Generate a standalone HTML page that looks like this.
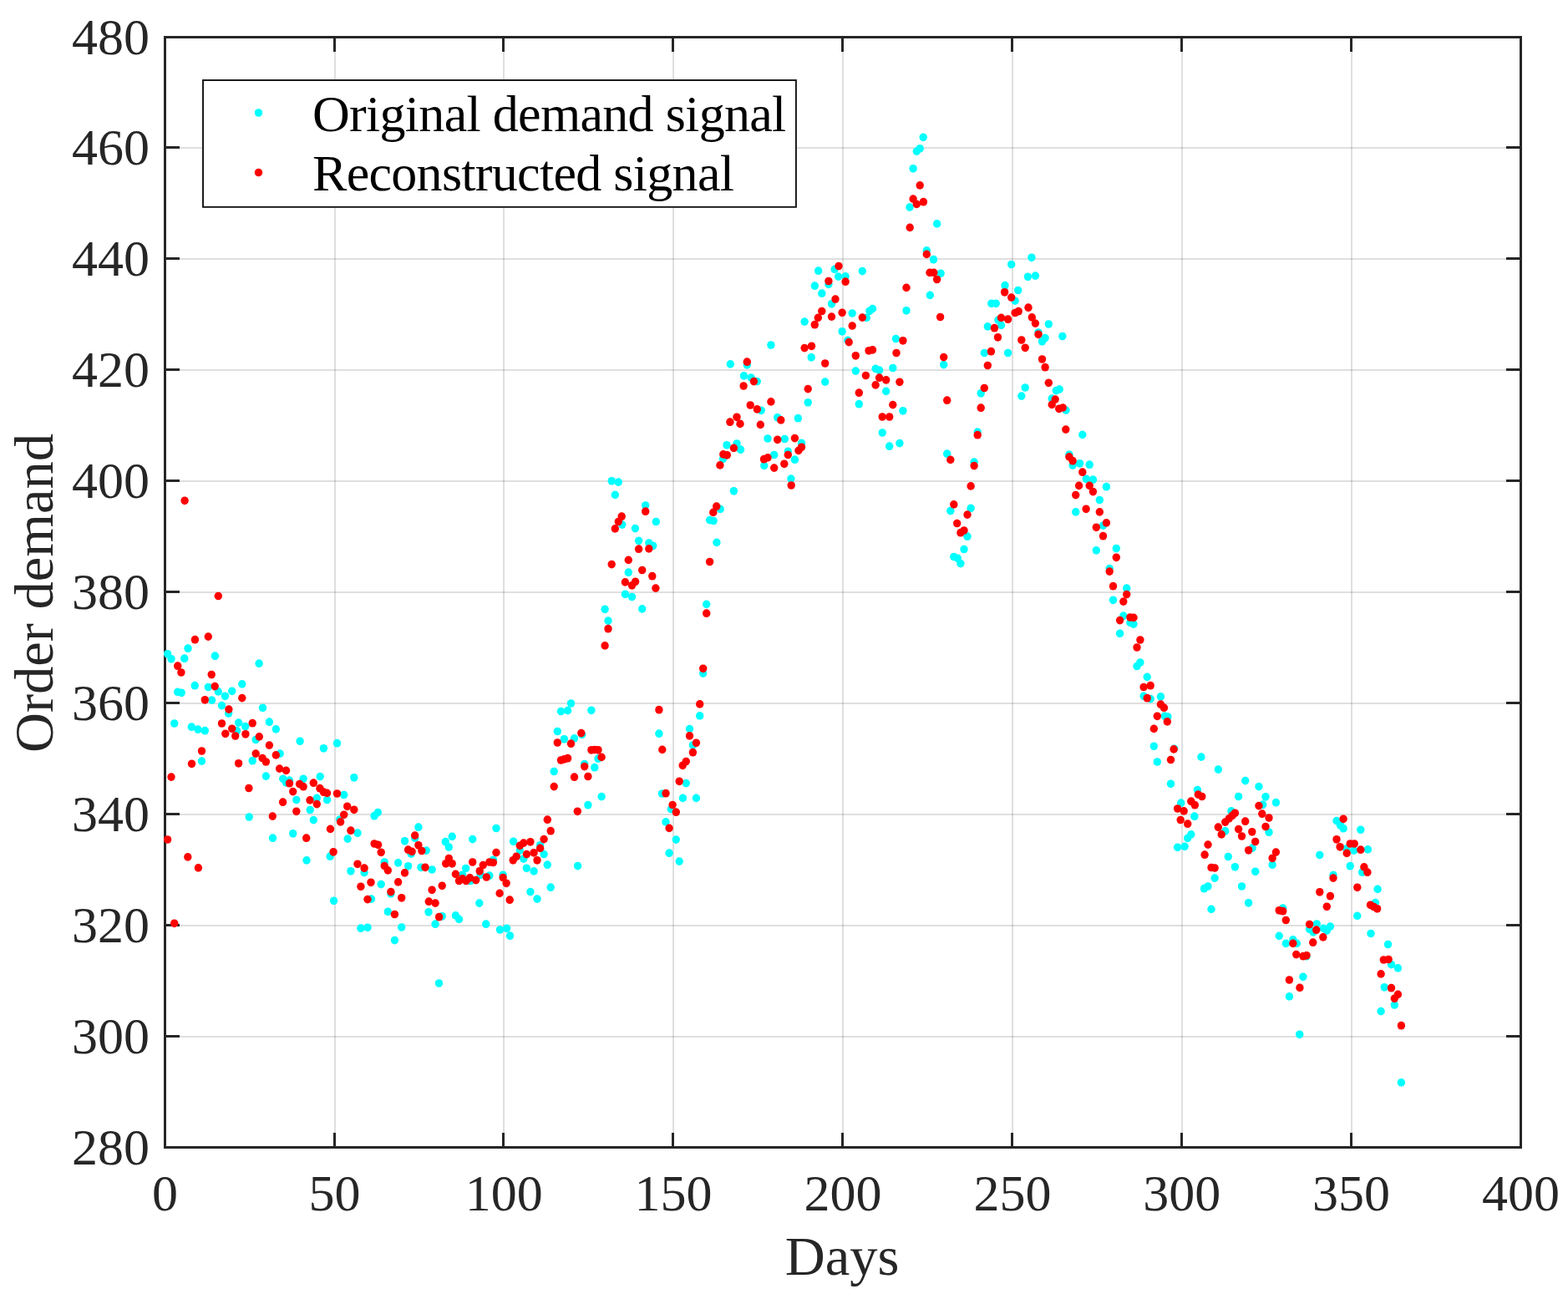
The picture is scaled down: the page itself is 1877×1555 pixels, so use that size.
<!DOCTYPE html><html><head><meta charset="utf-8"><title>Order demand</title><style>html,body{margin:0;padding:0;background:#fff;overflow:hidden}svg{display:block}</style></head><body><svg width="1877" height="1555" viewBox="0 0 1877 1555"><rect x="0" y="0" width="1877" height="1555" fill="#fff"/><g stroke="#262626" stroke-opacity="0.15" stroke-width="2"><line x1="401" y1="44.50" x2="401" y2="1373.20"/><line x1="603" y1="44.50" x2="603" y2="1373.20"/><line x1="806" y1="44.50" x2="806" y2="1373.20"/><line x1="1009" y1="44.50" x2="1009" y2="1373.20"/><line x1="1212" y1="44.50" x2="1212" y2="1373.20"/><line x1="1415" y1="44.50" x2="1415" y2="1373.20"/><line x1="1618" y1="44.50" x2="1618" y2="1373.20"/><line x1="197.50" y1="1241" x2="1820.50" y2="1241"/><line x1="197.50" y1="1108" x2="1820.50" y2="1108"/><line x1="197.50" y1="975" x2="1820.50" y2="975"/><line x1="197.50" y1="842" x2="1820.50" y2="842"/><line x1="197.50" y1="709" x2="1820.50" y2="709"/><line x1="197.50" y1="576" x2="1820.50" y2="576"/><line x1="197.50" y1="443" x2="1820.50" y2="443"/><line x1="197.50" y1="310" x2="1820.50" y2="310"/><line x1="197.50" y1="177" x2="1820.50" y2="177"/></g><g stroke="#262626" stroke-width="3" stroke-linecap="square"><line x1="400.50" y1="1373.5" x2="400.50" y2="1357.50"/><line x1="400.50" y1="44.50" x2="400.50" y2="60.50"/><line x1="602.50" y1="1373.5" x2="602.50" y2="1357.50"/><line x1="602.50" y1="44.50" x2="602.50" y2="60.50"/><line x1="805.50" y1="1373.5" x2="805.50" y2="1357.50"/><line x1="805.50" y1="44.50" x2="805.50" y2="60.50"/><line x1="1008.50" y1="1373.5" x2="1008.50" y2="1357.50"/><line x1="1008.50" y1="44.50" x2="1008.50" y2="60.50"/><line x1="1211.50" y1="1373.5" x2="1211.50" y2="1357.50"/><line x1="1211.50" y1="44.50" x2="1211.50" y2="60.50"/><line x1="1414.50" y1="1373.5" x2="1414.50" y2="1357.50"/><line x1="1414.50" y1="44.50" x2="1414.50" y2="60.50"/><line x1="1617.50" y1="1373.5" x2="1617.50" y2="1357.50"/><line x1="1617.50" y1="44.50" x2="1617.50" y2="60.50"/><line x1="197.50" y1="1240.50" x2="213.50" y2="1240.50"/><line x1="1820.50" y1="1240.50" x2="1804.50" y2="1240.50"/><line x1="197.50" y1="1107.50" x2="213.50" y2="1107.50"/><line x1="1820.50" y1="1107.50" x2="1804.50" y2="1107.50"/><line x1="197.50" y1="974.50" x2="213.50" y2="974.50"/><line x1="1820.50" y1="974.50" x2="1804.50" y2="974.50"/><line x1="197.50" y1="841.50" x2="213.50" y2="841.50"/><line x1="1820.50" y1="841.50" x2="1804.50" y2="841.50"/><line x1="197.50" y1="708.50" x2="213.50" y2="708.50"/><line x1="1820.50" y1="708.50" x2="1804.50" y2="708.50"/><line x1="197.50" y1="575.50" x2="213.50" y2="575.50"/><line x1="1820.50" y1="575.50" x2="1804.50" y2="575.50"/><line x1="197.50" y1="442.50" x2="213.50" y2="442.50"/><line x1="1820.50" y1="442.50" x2="1804.50" y2="442.50"/><line x1="197.50" y1="309.50" x2="213.50" y2="309.50"/><line x1="1820.50" y1="309.50" x2="1804.50" y2="309.50"/><line x1="197.50" y1="176.50" x2="213.50" y2="176.50"/><line x1="1820.50" y1="176.50" x2="1804.50" y2="176.50"/><rect x="197.5" y="44.5" width="1623" height="1329" fill="none"/></g><g fill="#00ffff"><ellipse cx="200.6" cy="782.8" rx="4.7" ry="4.85"/><ellipse cx="205.0" cy="788.8" rx="4.7" ry="4.85"/><ellipse cx="225.0" cy="776.2" rx="4.7" ry="4.85"/><ellipse cx="220.8" cy="788.2" rx="4.7" ry="4.85"/><ellipse cx="257.4" cy="785.2" rx="4.7" ry="4.85"/><ellipse cx="310.1" cy="794.2" rx="4.7" ry="4.85"/><ellipse cx="212.7" cy="828.4" rx="4.7" ry="4.85"/><ellipse cx="217.2" cy="829.3" rx="4.7" ry="4.85"/><ellipse cx="233.2" cy="820.7" rx="4.7" ry="4.85"/><ellipse cx="249.3" cy="822.5" rx="4.7" ry="4.85"/><ellipse cx="261.3" cy="827.9" rx="4.7" ry="4.85"/><ellipse cx="269.4" cy="833.3" rx="4.7" ry="4.85"/><ellipse cx="277.7" cy="827.3" rx="4.7" ry="4.85"/><ellipse cx="289.8" cy="818.9" rx="4.7" ry="4.85"/><ellipse cx="253.6" cy="838.1" rx="4.7" ry="4.85"/><ellipse cx="265.5" cy="844.6" rx="4.7" ry="4.85"/><ellipse cx="273.6" cy="854.0" rx="4.7" ry="4.85"/><ellipse cx="314.5" cy="847.3" rx="4.7" ry="4.85"/><ellipse cx="208.7" cy="866.0" rx="4.7" ry="4.85"/><ellipse cx="229.3" cy="870.2" rx="4.7" ry="4.85"/><ellipse cx="237.0" cy="873.2" rx="4.7" ry="4.85"/><ellipse cx="245.3" cy="874.7" rx="4.7" ry="4.85"/><ellipse cx="285.6" cy="865.1" rx="4.7" ry="4.85"/><ellipse cx="293.7" cy="869.6" rx="4.7" ry="4.85"/><ellipse cx="283.5" cy="874.7" rx="4.7" ry="4.85"/><ellipse cx="322.4" cy="864.2" rx="4.7" ry="4.85"/><ellipse cx="330.3" cy="872.9" rx="4.7" ry="4.85"/><ellipse cx="306.2" cy="885.5" rx="4.7" ry="4.85"/><ellipse cx="359.1" cy="887.3" rx="4.7" ry="4.85"/><ellipse cx="387.4" cy="895.8" rx="4.7" ry="4.85"/><ellipse cx="335.2" cy="902.1" rx="4.7" ry="4.85"/><ellipse cx="241.5" cy="911.1" rx="4.7" ry="4.85"/><ellipse cx="302.2" cy="910.7" rx="4.7" ry="4.85"/><ellipse cx="318.4" cy="929.1" rx="4.7" ry="4.85"/><ellipse cx="338.8" cy="932.3" rx="4.7" ry="4.85"/><ellipse cx="342.4" cy="936.8" rx="4.7" ry="4.85"/><ellipse cx="346.5" cy="934.1" rx="4.7" ry="4.85"/><ellipse cx="363.1" cy="932.3" rx="4.7" ry="4.85"/><ellipse cx="383.2" cy="929.6" rx="4.7" ry="4.85"/><ellipse cx="354.8" cy="957.5" rx="4.7" ry="4.85"/><ellipse cx="379.3" cy="955.4" rx="4.7" ry="4.85"/><ellipse cx="391.5" cy="957.5" rx="4.7" ry="4.85"/><ellipse cx="371.2" cy="969.5" rx="4.7" ry="4.85"/><ellipse cx="298.2" cy="978.0" rx="4.7" ry="4.85"/><ellipse cx="375.3" cy="981.6" rx="4.7" ry="4.85"/><ellipse cx="326.5" cy="1003.2" rx="4.7" ry="4.85"/><ellipse cx="350.7" cy="997.8" rx="4.7" ry="4.85"/><ellipse cx="395.1" cy="1025.2" rx="4.7" ry="4.85"/><ellipse cx="367.0" cy="1029.9" rx="4.7" ry="4.85"/><ellipse cx="399.6" cy="1078.3" rx="4.7" ry="4.85"/><ellipse cx="403.5" cy="889.7" rx="4.7" ry="4.85"/><ellipse cx="423.8" cy="930.8" rx="4.7" ry="4.85"/><ellipse cx="411.7" cy="951.5" rx="4.7" ry="4.85"/><ellipse cx="448.1" cy="976.7" rx="4.7" ry="4.85"/><ellipse cx="452.3" cy="972.6" rx="4.7" ry="4.85"/><ellipse cx="406.7" cy="981.0" rx="4.7" ry="4.85"/><ellipse cx="428.0" cy="997.2" rx="4.7" ry="4.85"/><ellipse cx="416.1" cy="1004.1" rx="4.7" ry="4.85"/><ellipse cx="500.9" cy="990.2" rx="4.7" ry="4.85"/><ellipse cx="484.5" cy="1006.8" rx="4.7" ry="4.85"/><ellipse cx="496.7" cy="1003.2" rx="4.7" ry="4.85"/><ellipse cx="510.3" cy="1018.1" rx="4.7" ry="4.85"/><ellipse cx="492.2" cy="1022.1" rx="4.7" ry="4.85"/><ellipse cx="533.3" cy="1007.7" rx="4.7" ry="4.85"/><ellipse cx="541.2" cy="1001.4" rx="4.7" ry="4.85"/><ellipse cx="537.3" cy="1014.0" rx="4.7" ry="4.85"/><ellipse cx="565.7" cy="1004.6" rx="4.7" ry="4.85"/><ellipse cx="594.0" cy="991.5" rx="4.7" ry="4.85"/><ellipse cx="460.2" cy="1032.0" rx="4.7" ry="4.85"/><ellipse cx="476.6" cy="1032.9" rx="4.7" ry="4.85"/><ellipse cx="488.6" cy="1036.8" rx="4.7" ry="4.85"/><ellipse cx="504.0" cy="1038.3" rx="4.7" ry="4.85"/><ellipse cx="517.1" cy="1041.0" rx="4.7" ry="4.85"/><ellipse cx="419.9" cy="1042.8" rx="4.7" ry="4.85"/><ellipse cx="436.1" cy="1044.6" rx="4.7" ry="4.85"/><ellipse cx="456.2" cy="1058.6" rx="4.7" ry="4.85"/><ellipse cx="557.6" cy="1039.5" rx="4.7" ry="4.85"/><ellipse cx="553.5" cy="1047.3" rx="4.7" ry="4.85"/><ellipse cx="563.4" cy="1054.5" rx="4.7" ry="4.85"/><ellipse cx="575.1" cy="1047.3" rx="4.7" ry="4.85"/><ellipse cx="585.9" cy="1048.2" rx="4.7" ry="4.85"/><ellipse cx="590.4" cy="1029.3" rx="4.7" ry="4.85"/><ellipse cx="602.1" cy="1047.3" rx="4.7" ry="4.85"/><ellipse cx="444.5" cy="1076.1" rx="4.7" ry="4.85"/><ellipse cx="467.9" cy="1069.8" rx="4.7" ry="4.85"/><ellipse cx="464.3" cy="1091.4" rx="4.7" ry="4.85"/><ellipse cx="513.0" cy="1091.8" rx="4.7" ry="4.85"/><ellipse cx="529.2" cy="1096.8" rx="4.7" ry="4.85"/><ellipse cx="545.4" cy="1095.9" rx="4.7" ry="4.85"/><ellipse cx="549.5" cy="1100.4" rx="4.7" ry="4.85"/><ellipse cx="573.8" cy="1081.1" rx="4.7" ry="4.85"/><ellipse cx="521.1" cy="1106.2" rx="4.7" ry="4.85"/><ellipse cx="581.7" cy="1106.2" rx="4.7" ry="4.85"/><ellipse cx="431.9" cy="1111.2" rx="4.7" ry="4.85"/><ellipse cx="440.0" cy="1110.3" rx="4.7" ry="4.85"/><ellipse cx="480.7" cy="1110.0" rx="4.7" ry="4.85"/><ellipse cx="472.4" cy="1125.6" rx="4.7" ry="4.85"/><ellipse cx="598.5" cy="1113.0" rx="4.7" ry="4.85"/><ellipse cx="525.5" cy="1177.0" rx="4.7" ry="4.85"/><ellipse cx="732.2" cy="575.8" rx="4.7" ry="4.85"/><ellipse cx="740.3" cy="577.1" rx="4.7" ry="4.85"/><ellipse cx="736.3" cy="592.4" rx="4.7" ry="4.85"/><ellipse cx="772.7" cy="605.0" rx="4.7" ry="4.85"/><ellipse cx="785.3" cy="624.5" rx="4.7" ry="4.85"/><ellipse cx="744.8" cy="628.1" rx="4.7" ry="4.85"/><ellipse cx="760.4" cy="632.6" rx="4.7" ry="4.85"/><ellipse cx="764.6" cy="647.3" rx="4.7" ry="4.85"/><ellipse cx="776.8" cy="650.0" rx="4.7" ry="4.85"/><ellipse cx="781.7" cy="653.3" rx="4.7" ry="4.85"/><ellipse cx="752.3" cy="685.2" rx="4.7" ry="4.85"/><ellipse cx="748.4" cy="711.3" rx="4.7" ry="4.85"/><ellipse cx="756.5" cy="714.5" rx="4.7" ry="4.85"/><ellipse cx="768.7" cy="728.9" rx="4.7" ry="4.85"/><ellipse cx="724.1" cy="729.3" rx="4.7" ry="4.85"/><ellipse cx="728.0" cy="743.1" rx="4.7" ry="4.85"/><ellipse cx="683.5" cy="842.0" rx="4.7" ry="4.85"/><ellipse cx="671.5" cy="851.5" rx="4.7" ry="4.85"/><ellipse cx="679.6" cy="850.6" rx="4.7" ry="4.85"/><ellipse cx="707.9" cy="850.3" rx="4.7" ry="4.85"/><ellipse cx="667.3" cy="875.5" rx="4.7" ry="4.85"/><ellipse cx="675.4" cy="884.8" rx="4.7" ry="4.85"/><ellipse cx="687.5" cy="883.9" rx="4.7" ry="4.85"/><ellipse cx="696.7" cy="879.4" rx="4.7" ry="4.85"/><ellipse cx="716.0" cy="908.2" rx="4.7" ry="4.85"/><ellipse cx="699.7" cy="914.5" rx="4.7" ry="4.85"/><ellipse cx="711.8" cy="918.7" rx="4.7" ry="4.85"/><ellipse cx="663.2" cy="923.5" rx="4.7" ry="4.85"/><ellipse cx="720.1" cy="953.6" rx="4.7" ry="4.85"/><ellipse cx="703.9" cy="963.7" rx="4.7" ry="4.85"/><ellipse cx="788.9" cy="878.2" rx="4.7" ry="4.85"/><ellipse cx="792.5" cy="950.0" rx="4.7" ry="4.85"/><ellipse cx="803.3" cy="968.6" rx="4.7" ry="4.85"/><ellipse cx="797.0" cy="983.9" rx="4.7" ry="4.85"/><ellipse cx="801.1" cy="1021.2" rx="4.7" ry="4.85"/><ellipse cx="614.6" cy="1007.3" rx="4.7" ry="4.85"/><ellipse cx="622.3" cy="1018.1" rx="4.7" ry="4.85"/><ellipse cx="626.8" cy="1028.0" rx="4.7" ry="4.85"/><ellipse cx="646.6" cy="1011.8" rx="4.7" ry="4.85"/><ellipse cx="651.1" cy="1022.6" rx="4.7" ry="4.85"/><ellipse cx="655.3" cy="1035.2" rx="4.7" ry="4.85"/><ellipse cx="630.4" cy="1039.3" rx="4.7" ry="4.85"/><ellipse cx="639.1" cy="1042.9" rx="4.7" ry="4.85"/><ellipse cx="691.6" cy="1036.6" rx="4.7" ry="4.85"/><ellipse cx="659.2" cy="1062.2" rx="4.7" ry="4.85"/><ellipse cx="634.9" cy="1067.6" rx="4.7" ry="4.85"/><ellipse cx="643.0" cy="1076.1" rx="4.7" ry="4.85"/><ellipse cx="606.6" cy="1111.3" rx="4.7" ry="4.85"/><ellipse cx="610.5" cy="1120.2" rx="4.7" ry="4.85"/><ellipse cx="979.6" cy="324.2" rx="4.7" ry="4.85"/><ellipse cx="999.1" cy="322.4" rx="4.7" ry="4.85"/><ellipse cx="1003.6" cy="331.1" rx="4.7" ry="4.85"/><ellipse cx="975.3" cy="342.2" rx="4.7" ry="4.85"/><ellipse cx="991.9" cy="340.4" rx="4.7" ry="4.85"/><ellipse cx="983.8" cy="351.2" rx="4.7" ry="4.85"/><ellipse cx="995.5" cy="363.8" rx="4.7" ry="4.85"/><ellipse cx="963.1" cy="385.1" rx="4.7" ry="4.85"/><ellipse cx="1008.1" cy="396.8" rx="4.7" ry="4.85"/><ellipse cx="922.9" cy="413.0" rx="4.7" ry="4.85"/><ellipse cx="971.2" cy="427.8" rx="4.7" ry="4.85"/><ellipse cx="874.3" cy="435.9" rx="4.7" ry="4.85"/><ellipse cx="894.3" cy="436.8" rx="4.7" ry="4.85"/><ellipse cx="890.5" cy="449.9" rx="4.7" ry="4.85"/><ellipse cx="899.1" cy="452.1" rx="4.7" ry="4.85"/><ellipse cx="906.3" cy="456.6" rx="4.7" ry="4.85"/><ellipse cx="987.7" cy="457.1" rx="4.7" ry="4.85"/><ellipse cx="967.2" cy="481.8" rx="4.7" ry="4.85"/><ellipse cx="911.2" cy="491.3" rx="4.7" ry="4.85"/><ellipse cx="930.7" cy="499.8" rx="4.7" ry="4.85"/><ellipse cx="955.3" cy="500.7" rx="4.7" ry="4.85"/><ellipse cx="919.0" cy="525.0" rx="4.7" ry="4.85"/><ellipse cx="939.3" cy="525.5" rx="4.7" ry="4.85"/><ellipse cx="959.5" cy="530.4" rx="4.7" ry="4.85"/><ellipse cx="870.0" cy="532.8" rx="4.7" ry="4.85"/><ellipse cx="882.0" cy="531.0" rx="4.7" ry="4.85"/><ellipse cx="886.5" cy="538.2" rx="4.7" ry="4.85"/><ellipse cx="865.5" cy="549.3" rx="4.7" ry="4.85"/><ellipse cx="926.7" cy="544.5" rx="4.7" ry="4.85"/><ellipse cx="943.3" cy="540.3" rx="4.7" ry="4.85"/><ellipse cx="951.4" cy="550.2" rx="4.7" ry="4.85"/><ellipse cx="914.8" cy="557.4" rx="4.7" ry="4.85"/><ellipse cx="946.9" cy="573.1" rx="4.7" ry="4.85"/><ellipse cx="878.4" cy="587.8" rx="4.7" ry="4.85"/><ellipse cx="862.2" cy="609.4" rx="4.7" ry="4.85"/><ellipse cx="849.6" cy="622.6" rx="4.7" ry="4.85"/><ellipse cx="854.1" cy="623.5" rx="4.7" ry="4.85"/><ellipse cx="857.9" cy="649.4" rx="4.7" ry="4.85"/><ellipse cx="845.7" cy="723.4" rx="4.7" ry="4.85"/><ellipse cx="841.7" cy="806.1" rx="4.7" ry="4.85"/><ellipse cx="837.7" cy="856.9" rx="4.7" ry="4.85"/><ellipse cx="825.5" cy="872.6" rx="4.7" ry="4.85"/><ellipse cx="829.4" cy="892.0" rx="4.7" ry="4.85"/><ellipse cx="821.3" cy="937.6" rx="4.7" ry="4.85"/><ellipse cx="817.4" cy="955.4" rx="4.7" ry="4.85"/><ellipse cx="833.4" cy="955.4" rx="4.7" ry="4.85"/><ellipse cx="809.3" cy="1005.1" rx="4.7" ry="4.85"/><ellipse cx="813.2" cy="1031.1" rx="4.7" ry="4.85"/><ellipse cx="1105.2" cy="164.3" rx="4.7" ry="4.85"/><ellipse cx="1101.2" cy="177.8" rx="4.7" ry="4.85"/><ellipse cx="1097.3" cy="181.1" rx="4.7" ry="4.85"/><ellipse cx="1093.1" cy="201.8" rx="4.7" ry="4.85"/><ellipse cx="1089.0" cy="248.0" rx="4.7" ry="4.85"/><ellipse cx="1121.6" cy="267.9" rx="4.7" ry="4.85"/><ellipse cx="1109.3" cy="299.9" rx="4.7" ry="4.85"/><ellipse cx="1117.5" cy="310.7" rx="4.7" ry="4.85"/><ellipse cx="1126.1" cy="327.3" rx="4.7" ry="4.85"/><ellipse cx="1032.3" cy="324.6" rx="4.7" ry="4.85"/><ellipse cx="1012.1" cy="330.9" rx="4.7" ry="4.85"/><ellipse cx="1113.3" cy="353.4" rx="4.7" ry="4.85"/><ellipse cx="1085.0" cy="371.8" rx="4.7" ry="4.85"/><ellipse cx="1020.2" cy="375.0" rx="4.7" ry="4.85"/><ellipse cx="1044.5" cy="369.6" rx="4.7" ry="4.85"/><ellipse cx="1040.9" cy="372.3" rx="4.7" ry="4.85"/><ellipse cx="1037.3" cy="380.4" rx="4.7" ry="4.85"/><ellipse cx="1210.7" cy="316.5" rx="4.7" ry="4.85"/><ellipse cx="1203.0" cy="341.7" rx="4.7" ry="4.85"/><ellipse cx="1186.8" cy="363.3" rx="4.7" ry="4.85"/><ellipse cx="1192.2" cy="363.3" rx="4.7" ry="4.85"/><ellipse cx="1194.9" cy="383.1" rx="4.7" ry="4.85"/><ellipse cx="1198.5" cy="389.4" rx="4.7" ry="4.85"/><ellipse cx="1182.3" cy="390.9" rx="4.7" ry="4.85"/><ellipse cx="1072.4" cy="405.6" rx="4.7" ry="4.85"/><ellipse cx="1014.8" cy="407.4" rx="4.7" ry="4.85"/><ellipse cx="1024.3" cy="444.1" rx="4.7" ry="4.85"/><ellipse cx="1048.1" cy="441.4" rx="4.7" ry="4.85"/><ellipse cx="1052.6" cy="443.2" rx="4.7" ry="4.85"/><ellipse cx="1068.8" cy="440.5" rx="4.7" ry="4.85"/><ellipse cx="1060.7" cy="468.4" rx="4.7" ry="4.85"/><ellipse cx="1028.3" cy="483.7" rx="4.7" ry="4.85"/><ellipse cx="1080.9" cy="491.8" rx="4.7" ry="4.85"/><ellipse cx="1056.2" cy="518.0" rx="4.7" ry="4.85"/><ellipse cx="1064.7" cy="534.2" rx="4.7" ry="4.85"/><ellipse cx="1076.9" cy="530.6" rx="4.7" ry="4.85"/><ellipse cx="1129.7" cy="436.6" rx="4.7" ry="4.85"/><ellipse cx="1178.3" cy="422.5" rx="4.7" ry="4.85"/><ellipse cx="1206.6" cy="422.5" rx="4.7" ry="4.85"/><ellipse cx="1174.2" cy="470.8" rx="4.7" ry="4.85"/><ellipse cx="1170.2" cy="517.1" rx="4.7" ry="4.85"/><ellipse cx="1133.7" cy="543.2" rx="4.7" ry="4.85"/><ellipse cx="1166.1" cy="553.1" rx="4.7" ry="4.85"/><ellipse cx="1137.8" cy="611.6" rx="4.7" ry="4.85"/><ellipse cx="1162.1" cy="608.4" rx="4.7" ry="4.85"/><ellipse cx="1158.0" cy="642.2" rx="4.7" ry="4.85"/><ellipse cx="1154.0" cy="657.5" rx="4.7" ry="4.85"/><ellipse cx="1141.8" cy="666.5" rx="4.7" ry="4.85"/><ellipse cx="1146.3" cy="668.3" rx="4.7" ry="4.85"/><ellipse cx="1149.9" cy="674.6" rx="4.7" ry="4.85"/><ellipse cx="1234.9" cy="308.3" rx="4.7" ry="4.85"/><ellipse cx="1230.4" cy="331.3" rx="4.7" ry="4.85"/><ellipse cx="1239.4" cy="330.1" rx="4.7" ry="4.85"/><ellipse cx="1218.7" cy="347.5" rx="4.7" ry="4.85"/><ellipse cx="1215.1" cy="360.1" rx="4.7" ry="4.85"/><ellipse cx="1255.3" cy="388.0" rx="4.7" ry="4.85"/><ellipse cx="1271.8" cy="402.5" rx="4.7" ry="4.85"/><ellipse cx="1243.0" cy="398.0" rx="4.7" ry="4.85"/><ellipse cx="1247.5" cy="408.8" rx="4.7" ry="4.85"/><ellipse cx="1251.1" cy="404.6" rx="4.7" ry="4.85"/><ellipse cx="1227.2" cy="464.0" rx="4.7" ry="4.85"/><ellipse cx="1222.8" cy="474.1" rx="4.7" ry="4.85"/><ellipse cx="1264.3" cy="467.6" rx="4.7" ry="4.85"/><ellipse cx="1268.2" cy="466.0" rx="4.7" ry="4.85"/><ellipse cx="1259.2" cy="477.2" rx="4.7" ry="4.85"/><ellipse cx="1276.0" cy="491.1" rx="4.7" ry="4.85"/><ellipse cx="1295.8" cy="520.4" rx="4.7" ry="4.85"/><ellipse cx="1279.9" cy="544.2" rx="4.7" ry="4.85"/><ellipse cx="1284.1" cy="557.1" rx="4.7" ry="4.85"/><ellipse cx="1292.5" cy="554.8" rx="4.7" ry="4.85"/><ellipse cx="1304.2" cy="556.2" rx="4.7" ry="4.85"/><ellipse cx="1300.3" cy="573.3" rx="4.7" ry="4.85"/><ellipse cx="1308.4" cy="574.2" rx="4.7" ry="4.85"/><ellipse cx="1324.4" cy="582.7" rx="4.7" ry="4.85"/><ellipse cx="1316.3" cy="598.5" rx="4.7" ry="4.85"/><ellipse cx="1287.7" cy="612.9" rx="4.7" ry="4.85"/><ellipse cx="1320.5" cy="629.1" rx="4.7" ry="4.85"/><ellipse cx="1312.3" cy="658.9" rx="4.7" ry="4.85"/><ellipse cx="1336.3" cy="656.5" rx="4.7" ry="4.85"/><ellipse cx="1328.2" cy="680.5" rx="4.7" ry="4.85"/><ellipse cx="1348.7" cy="704.2" rx="4.7" ry="4.85"/><ellipse cx="1332.5" cy="718.3" rx="4.7" ry="4.85"/><ellipse cx="1344.8" cy="737.2" rx="4.7" ry="4.85"/><ellipse cx="1352.9" cy="745.3" rx="4.7" ry="4.85"/><ellipse cx="1357.0" cy="747.1" rx="4.7" ry="4.85"/><ellipse cx="1340.6" cy="758.3" rx="4.7" ry="4.85"/><ellipse cx="1364.9" cy="793.0" rx="4.7" ry="4.85"/><ellipse cx="1361.0" cy="797.5" rx="4.7" ry="4.85"/><ellipse cx="1373.2" cy="810.4" rx="4.7" ry="4.85"/><ellipse cx="1369.1" cy="833.3" rx="4.7" ry="4.85"/><ellipse cx="1377.2" cy="836.6" rx="4.7" ry="4.85"/><ellipse cx="1389.4" cy="833.9" rx="4.7" ry="4.85"/><ellipse cx="1394.3" cy="857.3" rx="4.7" ry="4.85"/><ellipse cx="1397.9" cy="858.0" rx="4.7" ry="4.85"/><ellipse cx="1381.3" cy="893.3" rx="4.7" ry="4.85"/><ellipse cx="1405.6" cy="896.3" rx="4.7" ry="4.85"/><ellipse cx="1385.3" cy="912.0" rx="4.7" ry="4.85"/><ellipse cx="1401.5" cy="938.3" rx="4.7" ry="4.85"/><ellipse cx="1413.7" cy="961.2" rx="4.7" ry="4.85"/><ellipse cx="1409.6" cy="1014.3" rx="4.7" ry="4.85"/><ellipse cx="1437.9" cy="906.1" rx="4.7" ry="4.85"/><ellipse cx="1458.3" cy="921.1" rx="4.7" ry="4.85"/><ellipse cx="1490.7" cy="934.6" rx="4.7" ry="4.85"/><ellipse cx="1506.9" cy="941.6" rx="4.7" ry="4.85"/><ellipse cx="1433.4" cy="945.7" rx="4.7" ry="4.85"/><ellipse cx="1482.6" cy="953.5" rx="4.7" ry="4.85"/><ellipse cx="1515.0" cy="953.8" rx="4.7" ry="4.85"/><ellipse cx="1527.4" cy="960.7" rx="4.7" ry="4.85"/><ellipse cx="1511.7" cy="963.2" rx="4.7" ry="4.85"/><ellipse cx="1429.8" cy="977.2" rx="4.7" ry="4.85"/><ellipse cx="1473.9" cy="970.9" rx="4.7" ry="4.85"/><ellipse cx="1466.7" cy="994.9" rx="4.7" ry="4.85"/><ellipse cx="1425.8" cy="998.9" rx="4.7" ry="4.85"/><ellipse cx="1421.7" cy="1003.4" rx="4.7" ry="4.85"/><ellipse cx="1418.1" cy="1013.3" rx="4.7" ry="4.85"/><ellipse cx="1519.0" cy="996.2" rx="4.7" ry="4.85"/><ellipse cx="1499.1" cy="1015.1" rx="4.7" ry="4.85"/><ellipse cx="1470.3" cy="1025.5" rx="4.7" ry="4.85"/><ellipse cx="1478.4" cy="1037.8" rx="4.7" ry="4.85"/><ellipse cx="1502.7" cy="1043.3" rx="4.7" ry="4.85"/><ellipse cx="1523.1" cy="1035.2" rx="4.7" ry="4.85"/><ellipse cx="1454.1" cy="1051.1" rx="4.7" ry="4.85"/><ellipse cx="1446.0" cy="1061.0" rx="4.7" ry="4.85"/><ellipse cx="1441.5" cy="1063.7" rx="4.7" ry="4.85"/><ellipse cx="1486.5" cy="1061.0" rx="4.7" ry="4.85"/><ellipse cx="1494.6" cy="1080.8" rx="4.7" ry="4.85"/><ellipse cx="1450.0" cy="1088.4" rx="4.7" ry="4.85"/><ellipse cx="1579.8" cy="1023.5" rx="4.7" ry="4.85"/><ellipse cx="1600.0" cy="982.6" rx="4.7" ry="4.85"/><ellipse cx="1604.5" cy="988.0" rx="4.7" ry="4.85"/><ellipse cx="1608.1" cy="991.7" rx="4.7" ry="4.85"/><ellipse cx="1596.0" cy="1047.5" rx="4.7" ry="4.85"/><ellipse cx="1616.2" cy="1036.7" rx="4.7" ry="4.85"/><ellipse cx="1611.7" cy="1016.0" rx="4.7" ry="4.85"/><ellipse cx="1535.7" cy="1087.1" rx="4.7" ry="4.85"/><ellipse cx="1531.2" cy="1120.4" rx="4.7" ry="4.85"/><ellipse cx="1539.3" cy="1129.4" rx="4.7" ry="4.85"/><ellipse cx="1547.8" cy="1124.9" rx="4.7" ry="4.85"/><ellipse cx="1552.3" cy="1129.4" rx="4.7" ry="4.85"/><ellipse cx="1567.6" cy="1112.3" rx="4.7" ry="4.85"/><ellipse cx="1572.1" cy="1115.9" rx="4.7" ry="4.85"/><ellipse cx="1576.2" cy="1106.0" rx="4.7" ry="4.85"/><ellipse cx="1584.3" cy="1111.4" rx="4.7" ry="4.85"/><ellipse cx="1588.3" cy="1114.1" rx="4.7" ry="4.85"/><ellipse cx="1592.4" cy="1109.1" rx="4.7" ry="4.85"/><ellipse cx="1564.0" cy="1144.7" rx="4.7" ry="4.85"/><ellipse cx="1559.9" cy="1169.3" rx="4.7" ry="4.85"/><ellipse cx="1543.4" cy="1192.9" rx="4.7" ry="4.85"/><ellipse cx="1555.7" cy="1238.3" rx="4.7" ry="4.85"/><ellipse cx="1620.7" cy="1018.1" rx="4.7" ry="4.85"/><ellipse cx="1637.4" cy="1016.9" rx="4.7" ry="4.85"/><ellipse cx="1628.8" cy="993.3" rx="4.7" ry="4.85"/><ellipse cx="1630.6" cy="1044.2" rx="4.7" ry="4.85"/><ellipse cx="1649.1" cy="1064.4" rx="4.7" ry="4.85"/><ellipse cx="1646.4" cy="1080.6" rx="4.7" ry="4.85"/><ellipse cx="1624.8" cy="1096.4" rx="4.7" ry="4.85"/><ellipse cx="1641.0" cy="1117.5" rx="4.7" ry="4.85"/><ellipse cx="1661.5" cy="1130.5" rx="4.7" ry="4.85"/><ellipse cx="1665.5" cy="1154.6" rx="4.7" ry="4.85"/><ellipse cx="1673.4" cy="1158.9" rx="4.7" ry="4.85"/><ellipse cx="1657.2" cy="1181.8" rx="4.7" ry="4.85"/><ellipse cx="1669.3" cy="1203.0" rx="4.7" ry="4.85"/><ellipse cx="1653.1" cy="1210.6" rx="4.7" ry="4.85"/><ellipse cx="1677.4" cy="1295.9" rx="4.7" ry="4.85"/></g><g fill="#ff0000"><ellipse cx="221.1" cy="599.3" rx="4.7" ry="4.85"/><ellipse cx="261.3" cy="713.5" rx="4.7" ry="4.85"/><ellipse cx="233.4" cy="765.7" rx="4.7" ry="4.85"/><ellipse cx="249.3" cy="762.1" rx="4.7" ry="4.85"/><ellipse cx="212.7" cy="797.2" rx="4.7" ry="4.85"/><ellipse cx="216.9" cy="805.0" rx="4.7" ry="4.85"/><ellipse cx="253.2" cy="807.5" rx="4.7" ry="4.85"/><ellipse cx="257.2" cy="821.6" rx="4.7" ry="4.85"/><ellipse cx="245.3" cy="837.8" rx="4.7" ry="4.85"/><ellipse cx="289.8" cy="835.6" rx="4.7" ry="4.85"/><ellipse cx="273.9" cy="849.1" rx="4.7" ry="4.85"/><ellipse cx="265.5" cy="866.0" rx="4.7" ry="4.85"/><ellipse cx="302.2" cy="865.7" rx="4.7" ry="4.85"/><ellipse cx="277.7" cy="872.3" rx="4.7" ry="4.85"/><ellipse cx="269.8" cy="878.3" rx="4.7" ry="4.85"/><ellipse cx="281.7" cy="881.0" rx="4.7" ry="4.85"/><ellipse cx="293.9" cy="878.8" rx="4.7" ry="4.85"/><ellipse cx="310.3" cy="881.9" rx="4.7" ry="4.85"/><ellipse cx="241.5" cy="899.0" rx="4.7" ry="4.85"/><ellipse cx="229.5" cy="914.3" rx="4.7" ry="4.85"/><ellipse cx="205.0" cy="930.1" rx="4.7" ry="4.85"/><ellipse cx="285.6" cy="913.8" rx="4.7" ry="4.85"/><ellipse cx="297.9" cy="943.5" rx="4.7" ry="4.85"/><ellipse cx="322.4" cy="892.1" rx="4.7" ry="4.85"/><ellipse cx="306.2" cy="902.1" rx="4.7" ry="4.85"/><ellipse cx="314.1" cy="907.5" rx="4.7" ry="4.85"/><ellipse cx="318.4" cy="912.0" rx="4.7" ry="4.85"/><ellipse cx="330.3" cy="903.9" rx="4.7" ry="4.85"/><ellipse cx="334.6" cy="920.1" rx="4.7" ry="4.85"/><ellipse cx="342.5" cy="922.4" rx="4.7" ry="4.85"/><ellipse cx="346.5" cy="937.7" rx="4.7" ry="4.85"/><ellipse cx="350.7" cy="947.6" rx="4.7" ry="4.85"/><ellipse cx="358.6" cy="938.6" rx="4.7" ry="4.85"/><ellipse cx="363.1" cy="941.7" rx="4.7" ry="4.85"/><ellipse cx="375.3" cy="937.2" rx="4.7" ry="4.85"/><ellipse cx="382.9" cy="943.7" rx="4.7" ry="4.85"/><ellipse cx="387.4" cy="948.2" rx="4.7" ry="4.85"/><ellipse cx="391.5" cy="949.4" rx="4.7" ry="4.85"/><ellipse cx="338.6" cy="960.2" rx="4.7" ry="4.85"/><ellipse cx="371.0" cy="957.9" rx="4.7" ry="4.85"/><ellipse cx="379.3" cy="962.6" rx="4.7" ry="4.85"/><ellipse cx="354.8" cy="971.3" rx="4.7" ry="4.85"/><ellipse cx="326.3" cy="977.1" rx="4.7" ry="4.85"/><ellipse cx="395.5" cy="992.4" rx="4.7" ry="4.85"/><ellipse cx="200.6" cy="1005.0" rx="4.7" ry="4.85"/><ellipse cx="366.7" cy="1003.2" rx="4.7" ry="4.85"/><ellipse cx="399.1" cy="1019.8" rx="4.7" ry="4.85"/><ellipse cx="224.8" cy="1025.9" rx="4.7" ry="4.85"/><ellipse cx="237.4" cy="1038.9" rx="4.7" ry="4.85"/><ellipse cx="208.7" cy="1105.3" rx="4.7" ry="4.85"/><ellipse cx="403.5" cy="950.0" rx="4.7" ry="4.85"/><ellipse cx="415.7" cy="965.3" rx="4.7" ry="4.85"/><ellipse cx="423.8" cy="969.3" rx="4.7" ry="4.85"/><ellipse cx="411.7" cy="975.3" rx="4.7" ry="4.85"/><ellipse cx="407.6" cy="983.9" rx="4.7" ry="4.85"/><ellipse cx="419.9" cy="994.2" rx="4.7" ry="4.85"/><ellipse cx="448.1" cy="1010.0" rx="4.7" ry="4.85"/><ellipse cx="452.6" cy="1011.3" rx="4.7" ry="4.85"/><ellipse cx="456.2" cy="1020.3" rx="4.7" ry="4.85"/><ellipse cx="496.7" cy="1000.1" rx="4.7" ry="4.85"/><ellipse cx="500.9" cy="1011.8" rx="4.7" ry="4.85"/><ellipse cx="504.9" cy="1018.5" rx="4.7" ry="4.85"/><ellipse cx="488.6" cy="1017.2" rx="4.7" ry="4.85"/><ellipse cx="493.1" cy="1019.4" rx="4.7" ry="4.85"/><ellipse cx="428.0" cy="1034.3" rx="4.7" ry="4.85"/><ellipse cx="436.1" cy="1039.2" rx="4.7" ry="4.85"/><ellipse cx="460.2" cy="1036.5" rx="4.7" ry="4.85"/><ellipse cx="464.3" cy="1041.9" rx="4.7" ry="4.85"/><ellipse cx="484.5" cy="1044.9" rx="4.7" ry="4.85"/><ellipse cx="509.0" cy="1038.3" rx="4.7" ry="4.85"/><ellipse cx="537.3" cy="1027.5" rx="4.7" ry="4.85"/><ellipse cx="533.7" cy="1033.8" rx="4.7" ry="4.85"/><ellipse cx="541.2" cy="1033.8" rx="4.7" ry="4.85"/><ellipse cx="565.7" cy="1032.0" rx="4.7" ry="4.85"/><ellipse cx="594.0" cy="1020.6" rx="4.7" ry="4.85"/><ellipse cx="578.3" cy="1035.6" rx="4.7" ry="4.85"/><ellipse cx="585.9" cy="1032.0" rx="4.7" ry="4.85"/><ellipse cx="590.4" cy="1032.5" rx="4.7" ry="4.85"/><ellipse cx="545.4" cy="1046.4" rx="4.7" ry="4.85"/><ellipse cx="549.5" cy="1054.5" rx="4.7" ry="4.85"/><ellipse cx="553.5" cy="1051.8" rx="4.7" ry="4.85"/><ellipse cx="558.0" cy="1054.5" rx="4.7" ry="4.85"/><ellipse cx="562.5" cy="1050.9" rx="4.7" ry="4.85"/><ellipse cx="569.7" cy="1053.6" rx="4.7" ry="4.85"/><ellipse cx="574.2" cy="1042.8" rx="4.7" ry="4.85"/><ellipse cx="582.3" cy="1050.0" rx="4.7" ry="4.85"/><ellipse cx="602.1" cy="1050.5" rx="4.7" ry="4.85"/><ellipse cx="431.9" cy="1061.3" rx="4.7" ry="4.85"/><ellipse cx="444.0" cy="1056.3" rx="4.7" ry="4.85"/><ellipse cx="440.0" cy="1076.6" rx="4.7" ry="4.85"/><ellipse cx="476.6" cy="1055.9" rx="4.7" ry="4.85"/><ellipse cx="467.9" cy="1067.6" rx="4.7" ry="4.85"/><ellipse cx="480.7" cy="1074.8" rx="4.7" ry="4.85"/><ellipse cx="517.1" cy="1065.3" rx="4.7" ry="4.85"/><ellipse cx="529.2" cy="1060.3" rx="4.7" ry="4.85"/><ellipse cx="513.3" cy="1079.2" rx="4.7" ry="4.85"/><ellipse cx="521.1" cy="1081.1" rx="4.7" ry="4.85"/><ellipse cx="472.4" cy="1094.5" rx="4.7" ry="4.85"/><ellipse cx="525.6" cy="1097.7" rx="4.7" ry="4.85"/><ellipse cx="598.1" cy="1069.4" rx="4.7" ry="4.85"/><ellipse cx="772.7" cy="612.2" rx="4.7" ry="4.85"/><ellipse cx="744.2" cy="618.2" rx="4.7" ry="4.85"/><ellipse cx="740.3" cy="624.5" rx="4.7" ry="4.85"/><ellipse cx="736.3" cy="632.9" rx="4.7" ry="4.85"/><ellipse cx="764.6" cy="657.2" rx="4.7" ry="4.85"/><ellipse cx="776.8" cy="656.9" rx="4.7" ry="4.85"/><ellipse cx="752.3" cy="670.4" rx="4.7" ry="4.85"/><ellipse cx="732.2" cy="675.6" rx="4.7" ry="4.85"/><ellipse cx="768.7" cy="682.5" rx="4.7" ry="4.85"/><ellipse cx="780.8" cy="689.7" rx="4.7" ry="4.85"/><ellipse cx="748.4" cy="696.9" rx="4.7" ry="4.85"/><ellipse cx="756.5" cy="700.8" rx="4.7" ry="4.85"/><ellipse cx="760.6" cy="696.3" rx="4.7" ry="4.85"/><ellipse cx="784.9" cy="704.1" rx="4.7" ry="4.85"/><ellipse cx="728.0" cy="752.7" rx="4.7" ry="4.85"/><ellipse cx="724.1" cy="772.9" rx="4.7" ry="4.85"/><ellipse cx="695.8" cy="877.6" rx="4.7" ry="4.85"/><ellipse cx="667.3" cy="889.0" rx="4.7" ry="4.85"/><ellipse cx="683.5" cy="890.2" rx="4.7" ry="4.85"/><ellipse cx="707.9" cy="897.8" rx="4.7" ry="4.85"/><ellipse cx="716.0" cy="897.8" rx="4.7" ry="4.85"/><ellipse cx="720.1" cy="906.4" rx="4.7" ry="4.85"/><ellipse cx="671.5" cy="910.0" rx="4.7" ry="4.85"/><ellipse cx="679.6" cy="907.7" rx="4.7" ry="4.85"/><ellipse cx="699.7" cy="917.6" rx="4.7" ry="4.85"/><ellipse cx="687.5" cy="930.2" rx="4.7" ry="4.85"/><ellipse cx="703.9" cy="929.5" rx="4.7" ry="4.85"/><ellipse cx="663.2" cy="941.6" rx="4.7" ry="4.85"/><ellipse cx="691.3" cy="971.3" rx="4.7" ry="4.85"/><ellipse cx="788.9" cy="849.7" rx="4.7" ry="4.85"/><ellipse cx="792.8" cy="897.4" rx="4.7" ry="4.85"/><ellipse cx="797.0" cy="949.7" rx="4.7" ry="4.85"/><ellipse cx="805.1" cy="963.5" rx="4.7" ry="4.85"/><ellipse cx="801.1" cy="991.4" rx="4.7" ry="4.85"/><ellipse cx="655.3" cy="981.2" rx="4.7" ry="4.85"/><ellipse cx="659.2" cy="994.7" rx="4.7" ry="4.85"/><ellipse cx="651.1" cy="1004.6" rx="4.7" ry="4.85"/><ellipse cx="634.9" cy="1007.8" rx="4.7" ry="4.85"/><ellipse cx="626.8" cy="1009.1" rx="4.7" ry="4.85"/><ellipse cx="622.3" cy="1012.3" rx="4.7" ry="4.85"/><ellipse cx="646.6" cy="1015.4" rx="4.7" ry="4.85"/><ellipse cx="639.1" cy="1020.8" rx="4.7" ry="4.85"/><ellipse cx="630.4" cy="1022.6" rx="4.7" ry="4.85"/><ellipse cx="618.2" cy="1025.3" rx="4.7" ry="4.85"/><ellipse cx="614.2" cy="1029.8" rx="4.7" ry="4.85"/><ellipse cx="643.0" cy="1029.8" rx="4.7" ry="4.85"/><ellipse cx="606.1" cy="1057.3" rx="4.7" ry="4.85"/><ellipse cx="610.2" cy="1077.2" rx="4.7" ry="4.85"/><ellipse cx="1004.0" cy="318.5" rx="4.7" ry="4.85"/><ellipse cx="991.9" cy="336.5" rx="4.7" ry="4.85"/><ellipse cx="1000.0" cy="358.1" rx="4.7" ry="4.85"/><ellipse cx="983.8" cy="372.5" rx="4.7" ry="4.85"/><ellipse cx="1008.1" cy="374.3" rx="4.7" ry="4.85"/><ellipse cx="979.3" cy="380.4" rx="4.7" ry="4.85"/><ellipse cx="995.5" cy="379.1" rx="4.7" ry="4.85"/><ellipse cx="975.3" cy="388.7" rx="4.7" ry="4.85"/><ellipse cx="963.1" cy="416.6" rx="4.7" ry="4.85"/><ellipse cx="971.5" cy="414.3" rx="4.7" ry="4.85"/><ellipse cx="987.7" cy="435.0" rx="4.7" ry="4.85"/><ellipse cx="894.3" cy="433.2" rx="4.7" ry="4.85"/><ellipse cx="902.4" cy="456.6" rx="4.7" ry="4.85"/><ellipse cx="890.1" cy="462.0" rx="4.7" ry="4.85"/><ellipse cx="967.2" cy="465.6" rx="4.7" ry="4.85"/><ellipse cx="922.9" cy="480.9" rx="4.7" ry="4.85"/><ellipse cx="898.2" cy="485.0" rx="4.7" ry="4.85"/><ellipse cx="906.3" cy="489.9" rx="4.7" ry="4.85"/><ellipse cx="882.0" cy="499.3" rx="4.7" ry="4.85"/><ellipse cx="873.9" cy="505.2" rx="4.7" ry="4.85"/><ellipse cx="886.0" cy="507.4" rx="4.7" ry="4.85"/><ellipse cx="910.3" cy="508.4" rx="4.7" ry="4.85"/><ellipse cx="934.8" cy="502.9" rx="4.7" ry="4.85"/><ellipse cx="930.7" cy="526.3" rx="4.7" ry="4.85"/><ellipse cx="951.4" cy="524.6" rx="4.7" ry="4.85"/><ellipse cx="959.5" cy="535.3" rx="4.7" ry="4.85"/><ellipse cx="955.9" cy="539.4" rx="4.7" ry="4.85"/><ellipse cx="878.4" cy="536.4" rx="4.7" ry="4.85"/><ellipse cx="865.8" cy="543.9" rx="4.7" ry="4.85"/><ellipse cx="870.3" cy="544.8" rx="4.7" ry="4.85"/><ellipse cx="861.9" cy="556.9" rx="4.7" ry="4.85"/><ellipse cx="914.5" cy="549.7" rx="4.7" ry="4.85"/><ellipse cx="919.0" cy="547.9" rx="4.7" ry="4.85"/><ellipse cx="943.3" cy="544.5" rx="4.7" ry="4.85"/><ellipse cx="938.8" cy="555.3" rx="4.7" ry="4.85"/><ellipse cx="926.7" cy="560.1" rx="4.7" ry="4.85"/><ellipse cx="947.2" cy="581.0" rx="4.7" ry="4.85"/><ellipse cx="857.7" cy="606.2" rx="4.7" ry="4.85"/><ellipse cx="853.8" cy="613.4" rx="4.7" ry="4.85"/><ellipse cx="849.6" cy="672.5" rx="4.7" ry="4.85"/><ellipse cx="845.7" cy="734.2" rx="4.7" ry="4.85"/><ellipse cx="841.7" cy="800.3" rx="4.7" ry="4.85"/><ellipse cx="837.7" cy="842.9" rx="4.7" ry="4.85"/><ellipse cx="825.5" cy="880.9" rx="4.7" ry="4.85"/><ellipse cx="833.4" cy="889.3" rx="4.7" ry="4.85"/><ellipse cx="829.4" cy="900.7" rx="4.7" ry="4.85"/><ellipse cx="821.3" cy="911.5" rx="4.7" ry="4.85"/><ellipse cx="817.2" cy="916.3" rx="4.7" ry="4.85"/><ellipse cx="813.2" cy="935.3" rx="4.7" ry="4.85"/><ellipse cx="809.3" cy="972.2" rx="4.7" ry="4.85"/><ellipse cx="1101.2" cy="221.9" rx="4.7" ry="4.85"/><ellipse cx="1093.1" cy="238.1" rx="4.7" ry="4.85"/><ellipse cx="1097.3" cy="244.4" rx="4.7" ry="4.85"/><ellipse cx="1105.4" cy="241.7" rx="4.7" ry="4.85"/><ellipse cx="1089.2" cy="272.4" rx="4.7" ry="4.85"/><ellipse cx="1109.3" cy="304.4" rx="4.7" ry="4.85"/><ellipse cx="1113.0" cy="326.4" rx="4.7" ry="4.85"/><ellipse cx="1117.8" cy="326.4" rx="4.7" ry="4.85"/><ellipse cx="1121.6" cy="334.5" rx="4.7" ry="4.85"/><ellipse cx="1085.0" cy="344.4" rx="4.7" ry="4.85"/><ellipse cx="1012.1" cy="337.2" rx="4.7" ry="4.85"/><ellipse cx="1032.3" cy="380.1" rx="4.7" ry="4.85"/><ellipse cx="1020.2" cy="390.0" rx="4.7" ry="4.85"/><ellipse cx="1125.6" cy="379.5" rx="4.7" ry="4.85"/><ellipse cx="1202.6" cy="349.8" rx="4.7" ry="4.85"/><ellipse cx="1210.7" cy="356.1" rx="4.7" ry="4.85"/><ellipse cx="1198.5" cy="380.4" rx="4.7" ry="4.85"/><ellipse cx="1206.6" cy="382.2" rx="4.7" ry="4.85"/><ellipse cx="1190.4" cy="392.7" rx="4.7" ry="4.85"/><ellipse cx="1194.5" cy="403.8" rx="4.7" ry="4.85"/><ellipse cx="1080.9" cy="407.8" rx="4.7" ry="4.85"/><ellipse cx="1016.2" cy="409.6" rx="4.7" ry="4.85"/><ellipse cx="1024.3" cy="425.8" rx="4.7" ry="4.85"/><ellipse cx="1040.0" cy="419.8" rx="4.7" ry="4.85"/><ellipse cx="1044.5" cy="418.9" rx="4.7" ry="4.85"/><ellipse cx="1073.0" cy="422.5" rx="4.7" ry="4.85"/><ellipse cx="1036.4" cy="449.5" rx="4.7" ry="4.85"/><ellipse cx="1052.6" cy="452.2" rx="4.7" ry="4.85"/><ellipse cx="1060.7" cy="454.9" rx="4.7" ry="4.85"/><ellipse cx="1048.1" cy="460.9" rx="4.7" ry="4.85"/><ellipse cx="1076.9" cy="457.3" rx="4.7" ry="4.85"/><ellipse cx="1028.3" cy="470.2" rx="4.7" ry="4.85"/><ellipse cx="1068.8" cy="484.6" rx="4.7" ry="4.85"/><ellipse cx="1056.2" cy="499.0" rx="4.7" ry="4.85"/><ellipse cx="1064.7" cy="499.0" rx="4.7" ry="4.85"/><ellipse cx="1129.7" cy="427.6" rx="4.7" ry="4.85"/><ellipse cx="1133.7" cy="479.2" rx="4.7" ry="4.85"/><ellipse cx="1186.4" cy="420.7" rx="4.7" ry="4.85"/><ellipse cx="1182.3" cy="437.5" rx="4.7" ry="4.85"/><ellipse cx="1178.3" cy="464.5" rx="4.7" ry="4.85"/><ellipse cx="1174.2" cy="488.2" rx="4.7" ry="4.85"/><ellipse cx="1170.2" cy="520.7" rx="4.7" ry="4.85"/><ellipse cx="1137.8" cy="550.4" rx="4.7" ry="4.85"/><ellipse cx="1166.1" cy="557.6" rx="4.7" ry="4.85"/><ellipse cx="1162.1" cy="581.9" rx="4.7" ry="4.85"/><ellipse cx="1141.8" cy="603.9" rx="4.7" ry="4.85"/><ellipse cx="1158.0" cy="616.1" rx="4.7" ry="4.85"/><ellipse cx="1145.7" cy="626.5" rx="4.7" ry="4.85"/><ellipse cx="1149.9" cy="637.7" rx="4.7" ry="4.85"/><ellipse cx="1154.0" cy="635.0" rx="4.7" ry="4.85"/><ellipse cx="1215.1" cy="374.5" rx="4.7" ry="4.85"/><ellipse cx="1219.2" cy="372.7" rx="4.7" ry="4.85"/><ellipse cx="1231.0" cy="368.2" rx="4.7" ry="4.85"/><ellipse cx="1235.3" cy="379.9" rx="4.7" ry="4.85"/><ellipse cx="1239.4" cy="387.1" rx="4.7" ry="4.85"/><ellipse cx="1243.0" cy="400.3" rx="4.7" ry="4.85"/><ellipse cx="1222.8" cy="407.0" rx="4.7" ry="4.85"/><ellipse cx="1227.2" cy="416.3" rx="4.7" ry="4.85"/><ellipse cx="1247.5" cy="430.0" rx="4.7" ry="4.85"/><ellipse cx="1251.1" cy="439.7" rx="4.7" ry="4.85"/><ellipse cx="1255.3" cy="458.3" rx="4.7" ry="4.85"/><ellipse cx="1263.2" cy="478.1" rx="4.7" ry="4.85"/><ellipse cx="1259.2" cy="484.4" rx="4.7" ry="4.85"/><ellipse cx="1267.7" cy="489.3" rx="4.7" ry="4.85"/><ellipse cx="1272.2" cy="488.0" rx="4.7" ry="4.85"/><ellipse cx="1275.8" cy="514.1" rx="4.7" ry="4.85"/><ellipse cx="1279.9" cy="546.9" rx="4.7" ry="4.85"/><ellipse cx="1284.1" cy="551.7" rx="4.7" ry="4.85"/><ellipse cx="1295.8" cy="565.2" rx="4.7" ry="4.85"/><ellipse cx="1291.6" cy="581.4" rx="4.7" ry="4.85"/><ellipse cx="1304.2" cy="581.4" rx="4.7" ry="4.85"/><ellipse cx="1308.4" cy="588.6" rx="4.7" ry="4.85"/><ellipse cx="1287.7" cy="592.6" rx="4.7" ry="4.85"/><ellipse cx="1300.1" cy="609.3" rx="4.7" ry="4.85"/><ellipse cx="1316.3" cy="612.9" rx="4.7" ry="4.85"/><ellipse cx="1324.4" cy="625.9" rx="4.7" ry="4.85"/><ellipse cx="1312.3" cy="631.3" rx="4.7" ry="4.85"/><ellipse cx="1320.5" cy="641.7" rx="4.7" ry="4.85"/><ellipse cx="1336.3" cy="667.3" rx="4.7" ry="4.85"/><ellipse cx="1328.2" cy="684.1" rx="4.7" ry="4.85"/><ellipse cx="1332.5" cy="701.7" rx="4.7" ry="4.85"/><ellipse cx="1348.7" cy="711.6" rx="4.7" ry="4.85"/><ellipse cx="1344.8" cy="720.1" rx="4.7" ry="4.85"/><ellipse cx="1352.9" cy="739.0" rx="4.7" ry="4.85"/><ellipse cx="1357.0" cy="739.4" rx="4.7" ry="4.85"/><ellipse cx="1340.6" cy="742.6" rx="4.7" ry="4.85"/><ellipse cx="1364.9" cy="766.0" rx="4.7" ry="4.85"/><ellipse cx="1361.0" cy="775.0" rx="4.7" ry="4.85"/><ellipse cx="1369.1" cy="822.5" rx="4.7" ry="4.85"/><ellipse cx="1377.2" cy="820.7" rx="4.7" ry="4.85"/><ellipse cx="1373.2" cy="835.7" rx="4.7" ry="4.85"/><ellipse cx="1389.4" cy="843.2" rx="4.7" ry="4.85"/><ellipse cx="1393.4" cy="847.2" rx="4.7" ry="4.85"/><ellipse cx="1385.3" cy="857.3" rx="4.7" ry="4.85"/><ellipse cx="1397.3" cy="863.9" rx="4.7" ry="4.85"/><ellipse cx="1381.3" cy="872.4" rx="4.7" ry="4.85"/><ellipse cx="1405.1" cy="896.9" rx="4.7" ry="4.85"/><ellipse cx="1401.5" cy="909.5" rx="4.7" ry="4.85"/><ellipse cx="1409.6" cy="968.0" rx="4.7" ry="4.85"/><ellipse cx="1413.2" cy="981.5" rx="4.7" ry="4.85"/><ellipse cx="1434.3" cy="951.1" rx="4.7" ry="4.85"/><ellipse cx="1438.8" cy="953.5" rx="4.7" ry="4.85"/><ellipse cx="1425.8" cy="959.2" rx="4.7" ry="4.85"/><ellipse cx="1430.3" cy="963.7" rx="4.7" ry="4.85"/><ellipse cx="1417.2" cy="970.9" rx="4.7" ry="4.85"/><ellipse cx="1421.7" cy="986.2" rx="4.7" ry="4.85"/><ellipse cx="1458.3" cy="990.2" rx="4.7" ry="4.85"/><ellipse cx="1462.2" cy="998.9" rx="4.7" ry="4.85"/><ellipse cx="1466.7" cy="984.1" rx="4.7" ry="4.85"/><ellipse cx="1471.2" cy="979.9" rx="4.7" ry="4.85"/><ellipse cx="1475.2" cy="976.3" rx="4.7" ry="4.85"/><ellipse cx="1478.4" cy="973.3" rx="4.7" ry="4.85"/><ellipse cx="1490.7" cy="983.2" rx="4.7" ry="4.85"/><ellipse cx="1482.6" cy="992.6" rx="4.7" ry="4.85"/><ellipse cx="1486.5" cy="1001.0" rx="4.7" ry="4.85"/><ellipse cx="1498.8" cy="995.8" rx="4.7" ry="4.85"/><ellipse cx="1502.7" cy="1007.5" rx="4.7" ry="4.85"/><ellipse cx="1494.6" cy="1017.8" rx="4.7" ry="4.85"/><ellipse cx="1506.9" cy="964.6" rx="4.7" ry="4.85"/><ellipse cx="1510.8" cy="974.2" rx="4.7" ry="4.85"/><ellipse cx="1519.0" cy="979.0" rx="4.7" ry="4.85"/><ellipse cx="1515.0" cy="989.5" rx="4.7" ry="4.85"/><ellipse cx="1527.4" cy="1020.1" rx="4.7" ry="4.85"/><ellipse cx="1523.1" cy="1027.3" rx="4.7" ry="4.85"/><ellipse cx="1446.0" cy="1011.1" rx="4.7" ry="4.85"/><ellipse cx="1442.1" cy="1023.2" rx="4.7" ry="4.85"/><ellipse cx="1450.0" cy="1038.5" rx="4.7" ry="4.85"/><ellipse cx="1454.1" cy="1039.0" rx="4.7" ry="4.85"/><ellipse cx="1608.1" cy="980.3" rx="4.7" ry="4.85"/><ellipse cx="1600.0" cy="1004.8" rx="4.7" ry="4.85"/><ellipse cx="1604.1" cy="1013.8" rx="4.7" ry="4.85"/><ellipse cx="1612.2" cy="1021.4" rx="4.7" ry="4.85"/><ellipse cx="1616.2" cy="1010.0" rx="4.7" ry="4.85"/><ellipse cx="1596.0" cy="1051.1" rx="4.7" ry="4.85"/><ellipse cx="1579.8" cy="1067.8" rx="4.7" ry="4.85"/><ellipse cx="1592.4" cy="1072.7" rx="4.7" ry="4.85"/><ellipse cx="1588.3" cy="1085.3" rx="4.7" ry="4.85"/><ellipse cx="1531.2" cy="1089.8" rx="4.7" ry="4.85"/><ellipse cx="1535.7" cy="1090.7" rx="4.7" ry="4.85"/><ellipse cx="1539.3" cy="1101.5" rx="4.7" ry="4.85"/><ellipse cx="1567.6" cy="1106.5" rx="4.7" ry="4.85"/><ellipse cx="1575.7" cy="1113.2" rx="4.7" ry="4.85"/><ellipse cx="1583.8" cy="1121.9" rx="4.7" ry="4.85"/><ellipse cx="1571.7" cy="1128.2" rx="4.7" ry="4.85"/><ellipse cx="1547.8" cy="1129.4" rx="4.7" ry="4.85"/><ellipse cx="1551.7" cy="1142.6" rx="4.7" ry="4.85"/><ellipse cx="1560.0" cy="1144.7" rx="4.7" ry="4.85"/><ellipse cx="1564.0" cy="1143.8" rx="4.7" ry="4.85"/><ellipse cx="1543.4" cy="1173.0" rx="4.7" ry="4.85"/><ellipse cx="1555.9" cy="1182.4" rx="4.7" ry="4.85"/><ellipse cx="1621.2" cy="1010.0" rx="4.7" ry="4.85"/><ellipse cx="1628.8" cy="1017.2" rx="4.7" ry="4.85"/><ellipse cx="1632.9" cy="1037.9" rx="4.7" ry="4.85"/><ellipse cx="1636.9" cy="1044.2" rx="4.7" ry="4.85"/><ellipse cx="1624.8" cy="1062.3" rx="4.7" ry="4.85"/><ellipse cx="1640.5" cy="1083.3" rx="4.7" ry="4.85"/><ellipse cx="1648.6" cy="1087.8" rx="4.7" ry="4.85"/><ellipse cx="1656.3" cy="1149.0" rx="4.7" ry="4.85"/><ellipse cx="1662.1" cy="1148.5" rx="4.7" ry="4.85"/><ellipse cx="1653.1" cy="1165.9" rx="4.7" ry="4.85"/><ellipse cx="1665.5" cy="1182.7" rx="4.7" ry="4.85"/><ellipse cx="1673.4" cy="1190.4" rx="4.7" ry="4.85"/><ellipse cx="1669.3" cy="1195.3" rx="4.7" ry="4.85"/><ellipse cx="1677.4" cy="1227.7" rx="4.7" ry="4.85"/><ellipse cx="711.9" cy="897.5" rx="4.7" ry="4.85"/><ellipse cx="675.5" cy="908.8" rx="4.7" ry="4.85"/><ellipse cx="1644.5" cy="1085.5" rx="4.7" ry="4.85"/></g><g font-family="Liberation Serif, serif" font-size="62" fill="#262626"><text x="197.50" y="1448.5" text-anchor="middle">0</text><text x="400.38" y="1448.5" text-anchor="middle">50</text><text x="603.25" y="1448.5" text-anchor="middle">100</text><text x="806.12" y="1448.5" text-anchor="middle">150</text><text x="1009.00" y="1448.5" text-anchor="middle">200</text><text x="1211.88" y="1448.5" text-anchor="middle">250</text><text x="1414.75" y="1448.5" text-anchor="middle">300</text><text x="1617.62" y="1448.5" text-anchor="middle">350</text><text x="1820.50" y="1448.5" text-anchor="middle">400</text><text x="179" y="1394.30" text-anchor="end">280</text><text x="179" y="1261.30" text-anchor="end">300</text><text x="179" y="1128.30" text-anchor="end">320</text><text x="179" y="995.30" text-anchor="end">340</text><text x="179" y="862.30" text-anchor="end">360</text><text x="179" y="729.30" text-anchor="end">380</text><text x="179" y="596.30" text-anchor="end">400</text><text x="179" y="463.30" text-anchor="end">420</text><text x="179" y="330.30" text-anchor="end">440</text><text x="179" y="197.30" text-anchor="end">460</text><text x="179" y="65.30" text-anchor="end">480</text></g><text x="1008" y="1526" text-anchor="middle" font-family="Liberation Serif, serif" font-size="66.5" fill="#262626">Days</text><text transform="translate(63,710) rotate(-90)" x="0" y="0" text-anchor="middle" font-family="Liberation Serif, serif" font-size="66.5" fill="#262626">Order demand</text><rect x="243" y="96" width="709.9" height="151.8" fill="#fff" stroke="#111" stroke-width="1.9"/><ellipse cx="309.5" cy="135" rx="4.7" ry="4.85" fill="#00ffff"/><ellipse cx="309.5" cy="206.5" rx="4.7" ry="4.85" fill="#ff0000"/><g font-family="Liberation Serif, serif" font-size="62" fill="#000" letter-spacing="-0.7"><text x="374" y="157.2">Original demand signal</text><text x="374" y="228">Reconstructed signal</text></g></svg></body></html>
